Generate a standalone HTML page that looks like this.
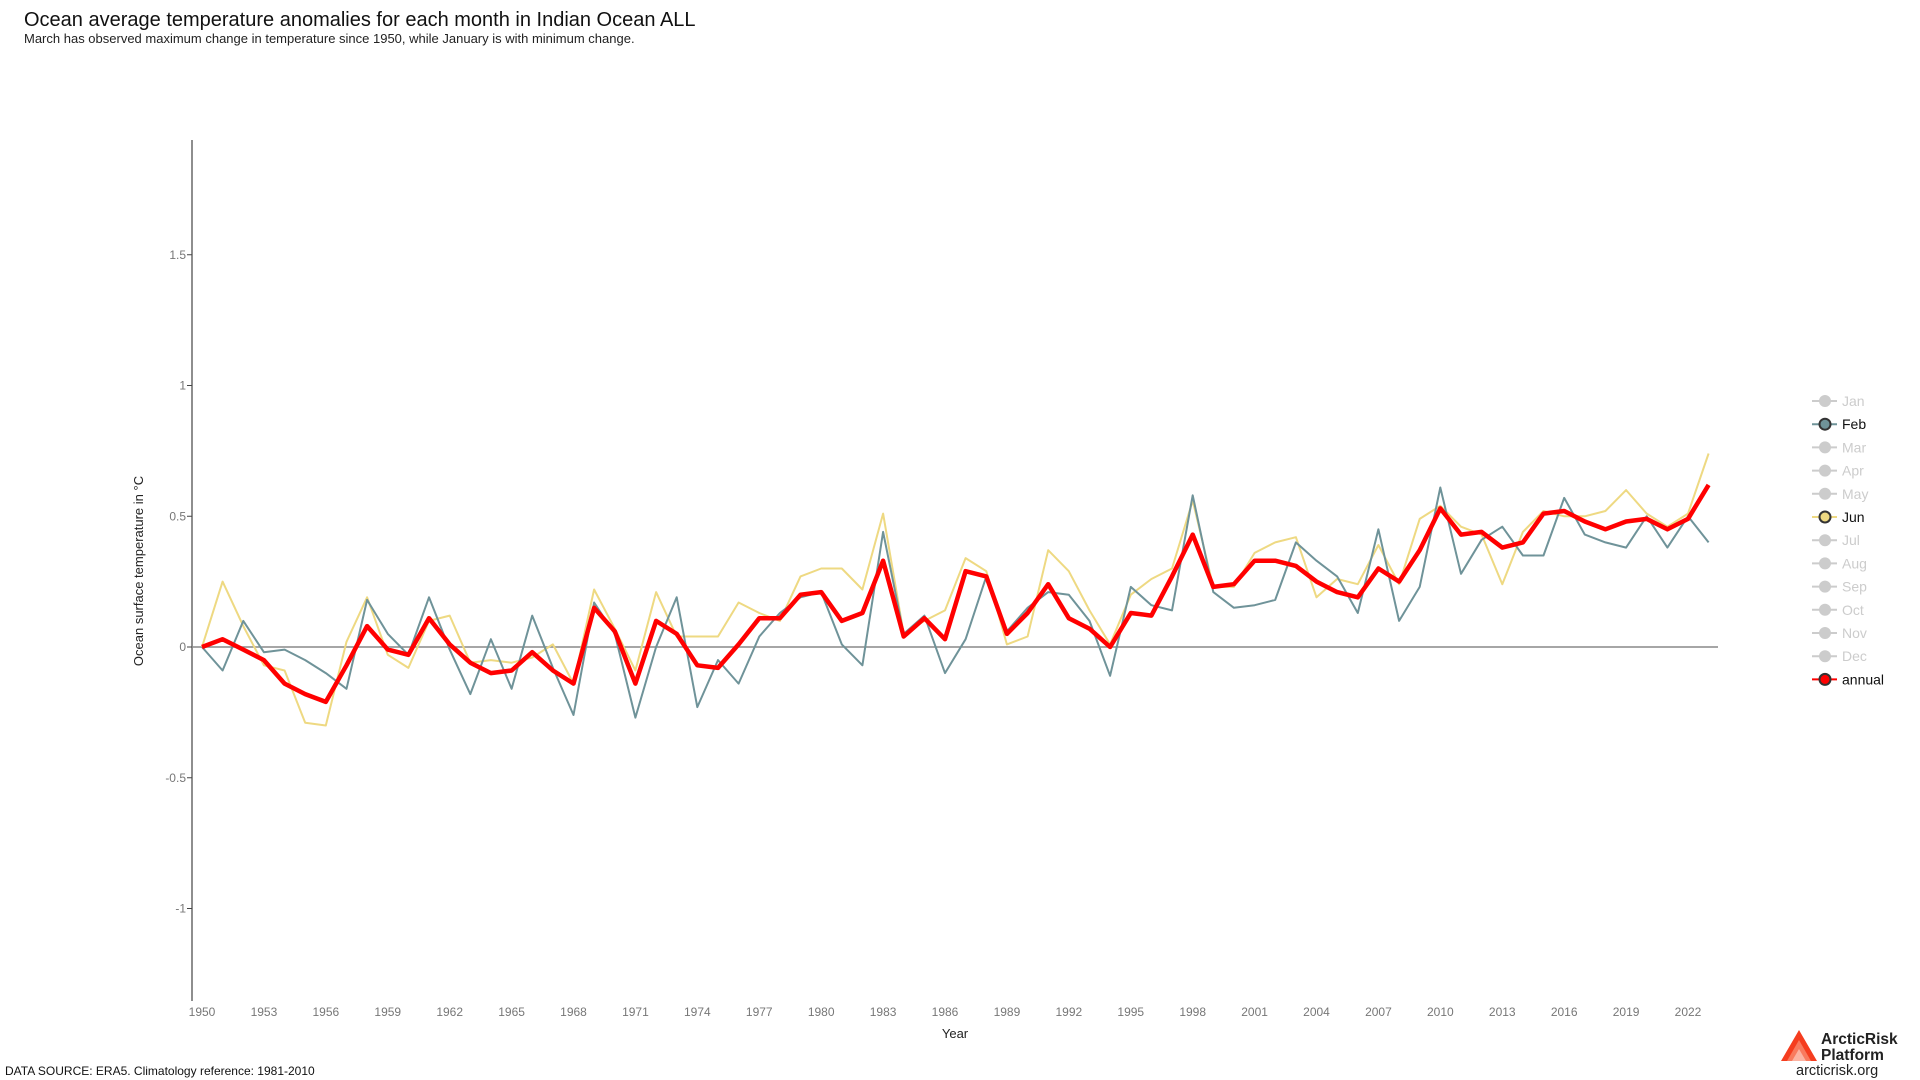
<!DOCTYPE html>
<html><head><meta charset="utf-8"><style>
html,body{margin:0;padding:0;background:#fff;width:1920px;height:1080px;overflow:hidden;font-family:"Liberation Sans",sans-serif}
svg{display:block}
</style></head><body>
<svg id="chart" width="1920" height="1080">
<text x="24" y="26" font-size="20" fill="#111">Ocean average temperature anomalies for each month in Indian Ocean ALL</text>
<text x="24" y="43" font-size="13" fill="#222">March has observed maximum change in temperature since 1950, while January is with minimum change.</text>
<g id="plot"></g>
<g id="legend"></g>
<text x="5" y="1075" font-size="12" fill="#111">DATA SOURCE: ERA5. Climatology reference: 1981-2010</text>
<g>
<polygon points="1781,1061 1799,1030 1817,1061" fill="#f53d1f"/>
<polygon points="1787,1061 1799,1040 1811,1061" fill="#f97a5e"/>
<polygon points="1792,1061 1799,1049 1806,1061" fill="#fcb3a2"/>
<text x="1821" y="1044" font-size="15.5" font-weight="bold" fill="#222">ArcticRisk</text>
<text x="1821" y="1060" font-size="15.5" font-weight="bold" fill="#222">Platform</text>
</g>
<text x="1796" y="1075" font-size="14.5" fill="#222">arcticrisk.org</text>
</svg>
<script>
const years = [];
for (let y = 1950; y <= 2023; y++) years.push(y);
const annual = [0,0.03,-0.01,-0.05,-0.14,-0.18,-0.21,-0.07,0.08,-0.01,-0.03,0.11,0.01,-0.06,-0.10,-0.09,-0.02,-0.09,-0.14,0.15,0.06,-0.14,0.10,0.05,-0.07,-0.08,0.01,0.11,0.11,0.20,0.21,0.10,0.13,0.33,0.04,0.11,0.03,0.29,0.27,0.05,0.13,0.24,0.11,0.07,0.00,0.13,0.12,0.27,0.43,0.23,0.24,0.33,0.33,0.31,0.25,0.21,0.19,0.30,0.25,0.37,0.53,0.43,0.44,0.38,0.40,0.51,0.52,0.48,0.45,0.48,0.49,0.45,0.49,0.62];
const feb = [0,-0.09,0.10,-0.02,-0.01,-0.05,-0.10,-0.16,0.18,0.05,-0.03,0.19,-0.01,-0.18,0.03,-0.16,0.12,-0.08,-0.26,0.17,0.05,-0.27,0.0,0.19,-0.23,-0.05,-0.14,0.04,0.13,0.19,0.21,0.01,-0.07,0.44,0.05,0.12,-0.10,0.03,0.27,0.06,0.15,0.21,0.20,0.10,-0.11,0.23,0.16,0.14,0.58,0.21,0.15,0.16,0.18,0.40,0.33,0.27,0.13,0.45,0.10,0.23,0.61,0.28,0.41,0.46,0.35,0.35,0.57,0.43,0.40,0.38,0.50,0.38,0.50,0.40];
const jun = [0,0.25,0.08,-0.07,-0.09,-0.29,-0.30,0.02,0.19,-0.03,-0.08,0.10,0.12,-0.06,-0.05,-0.06,-0.04,0.01,-0.14,0.22,0.07,-0.09,0.21,0.04,0.04,0.04,0.17,0.13,0.10,0.27,0.30,0.30,0.22,0.51,0.05,0.10,0.14,0.34,0.29,0.01,0.04,0.37,0.29,0.14,0.01,0.20,0.26,0.30,0.56,0.23,0.23,0.36,0.40,0.42,0.19,0.26,0.24,0.39,0.24,0.49,0.54,0.46,0.43,0.24,0.44,0.52,0.50,0.50,0.52,0.60,0.51,0.46,0.51,0.74];
const yTicks = [-1,-0.5,0,0.5,1,1.5];
const yTickLabels = ["-1","-0.5","0","0.5","1","1.5"];
const xTickYears = [1950,1953,1956,1959,1962,1965,1968,1971,1974,1977,1980,1983,1986,1989,1992,1995,1998,2001,2004,2007,2010,2013,2016,2019,2022];
const legendLabels = ["Jan","Feb","Mar","Apr","May","Jun","Jul","Aug","Sep","Oct","Nov","Dec","annual"];

const NS = "http://www.w3.org/2000/svg";
const X0 = 202, XPY = (1688 - 202) / 72;
const Y0 = 647, YPU = 261.5;
const xs = y => X0 + (y - 1950) * XPY;
const ys = v => Y0 - v * YPU;
const plot = document.getElementById('plot');
function mk(tag, attrs, parent) {
  const e = document.createElementNS(NS, tag);
  for (const k in attrs) e.setAttribute(k, attrs[k]);
  (parent || plot).appendChild(e);
  return e;
}
let a = mk('line', {x1:192, y1:140, x2:192, y2:1001, stroke:'#444', 'stroke-width':1.2});


let z = mk('line', {x1:192, y1:ys(0), x2:1718, y2:ys(0), stroke:'#888', 'stroke-width':1.5});


yTicks.forEach((v, i) => {
  mk('line', {x1:187, y1:ys(v), x2:192, y2:ys(v), stroke:'#444'});
  const t = mk('text', {x:186, y:ys(v) + 4, 'font-size':12, fill:'#777', 'text-anchor':'end'});
  t.textContent = yTickLabels[i];
  
  
});
xTickYears.forEach(yr => {
  const t = mk('text', {x:xs(yr), y:1016, 'font-size':12, fill:'#777', 'text-anchor':'middle'});
  t.textContent = yr;
  
  
});
let xt = mk('text', {x:955, y:1038, 'font-size':13, fill:'#222', 'text-anchor':'middle'});
xt.textContent = 'Year';


let yt = mk('text', {x:0, y:0, 'font-size':13, fill:'#222', 'text-anchor':'middle', transform:'translate(143,571) rotate(-90)'});
yt.textContent = 'Ocean surface temperature in °C';


function series(vals, color, w, name) {
  const d = vals.map((v, i) => (i ? 'L' : 'M') + xs(years[i]).toFixed(1) + ',' + ys(v).toFixed(1)).join('');
  const p = mk('path', {d:d, fill:'none', stroke:color, 'stroke-width':w, 'stroke-linejoin':'round'});
  
  
}
series(jun, '#eed982', 2, 'jun-line');
series(feb, '#6f9399', 2, 'feb-line');
series(annual, '#ff0000', 4.5, 'annual-line');
const leg = document.getElementById('legend');
const colors = {Feb:'#6f9399', Jun:'#eed982', annual:'#ff0000'};
legendLabels.forEach((lab, i) => {
  const y = 401 + i * 23.2;
  const c = colors[lab];
  const g = mk('g', {}, leg);
  
  
  mk('line', {x1:1812, y1:y, x2:1837, y2:y, stroke:c || '#ccc', 'stroke-width':2}, g);
  mk('circle', {cx:1825, cy:y, r:5.5, fill:c || '#ccc', stroke:c ? '#333' : '#ccc', 'stroke-width':c ? 2 : 1}, g);
  const t = mk('text', {x:1842, y:y + 5, 'font-size':14, fill:c ? '#111' : '#ccc'}, g);
  t.textContent = lab;
});
</script>
</body></html>
